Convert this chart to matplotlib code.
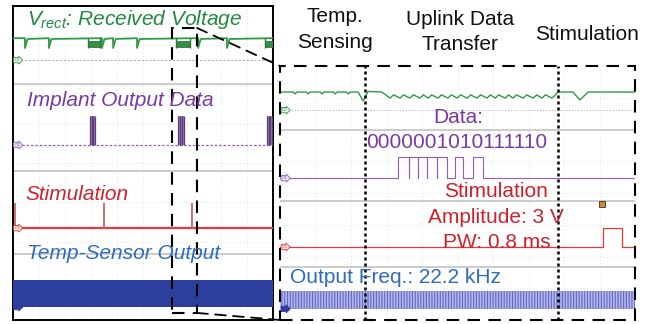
import numpy as np
import matplotlib.pyplot as plt
from matplotlib.patches import Rectangle, ConnectionPatch

plt.rcParams['font.family'] = ['Liberation Sans', 'DejaVu Sans']
plt.rcParams['mathtext.fontset'] = 'custom'
plt.rcParams['mathtext.it'] = 'Liberation Sans:italic'
plt.rcParams['mathtext.rm'] = 'Liberation Sans'
plt.rcParams['hatch.linewidth'] = 0.8

# ---- left scope screen (divisions: x 0..10, y 0..8) ----
green_hi = 7.18
green_lo = 6.93
green_thin_dips = [0.46, 1.38, 3.42, 3.85, 4.77, 7.12, 8.23]
green_wide_dips = [(2.88, 3.35), (6.27, 6.81), (9.69, 10.0)]
purple_base_l, purple_top_l = 4.46, 5.20
purple_bursts_l = [(2.96, 3.15), (6.35, 6.58), (9.77, 9.96)]
red_base_l, red_top_l = 2.34, 2.98
red_spikes_l = [0.08, 3.50, 6.88]
blue_band_l = (0.33, 1.02)
sep_l = [6.01, 3.80, 1.68]
ref_green_l = 6.62

# ---- right (zoomed) screen ----
green_r_hi = 7.18
green_r_notches = [0.42, 0.79, 1.18, 1.55, 1.92]
green_r_ripple = [3.10, 3.38, 3.66, 3.94, 4.17, 4.45, 4.73, 4.99, 5.27,
                  5.55, 5.83, 6.06, 6.34, 6.56, 6.85, 7.13, 7.38, 7.66]
ripple_top, ripple_bot = 7.12, 6.99
purple_base_r, purple_top_r = 4.47, 5.13
purple_pulses_r = [(3.32, 3.63), (3.63, 3.89), (3.89, 4.14), (4.14, 4.42),
                   (4.42, 4.70), (4.93, 5.15), (5.44, 5.72)]
red_base_r, red_top_r = 2.30, 2.90
red_pulse_r = (9.10, 9.63)
blue_band_r = (0.35, 0.91)
sep_r = [5.98, 3.75, 1.67]
ref_green_r = 6.61
phase_lines = [2.39, 7.83]

GREEN_T = "#1f8a3c"
GREEN = "#2f9a48"
PURPLE_T = "#7a3aa6"
PURPLE = "#9060b8"
RED_T = "#d0202c"
RED = "#e03a3a"
BLUE_T = "#2f6cc0"

fig = plt.figure(figsize=(6.62, 3.24), dpi=100)
ax_l = fig.add_axes([13/662, 4/324, 260/662, 314/324])
ax_r = fig.add_axes([280/662, 4/324, 355/662, 254/324])

for ax in (ax_l, ax_r):
    ax.set_xlim(0, 10)
    ax.set_ylim(0, 8)
    ax.set_xticks([])
    ax.set_yticks([])
    for g in range(1, 10):
        ax.axvline(g, color="#dadada", lw=0.6, ls=(0, (1, 3)), zorder=0)
    for g in range(1, 8):
        ax.axhline(g, color="#dadada", lw=0.6, ls=(0, (1, 3)), zorder=0)

for s in ax_l.spines.values():
    s.set_linewidth(1.4)
for s in ax_r.spines.values():
    s.set_visible(False)
ax_r.add_patch(Rectangle((0, 0), 10, 8, fill=False, ec="black", lw=1.5,
                         ls=(0, (6, 4)), clip_on=False, zorder=6))


def tag(ax, y, label, color, fc):
    ax.text(0.05, y, label, fontsize=3.2, color=color, ha="left", va="center",
            bbox=dict(boxstyle="rarrow,pad=0.15", fc=fc, ec=color, lw=0.6),
            zorder=5)


# ---------- left panel ----------
for y in sep_l:
    ax_l.axhline(y, color="#c4c4c4", lw=1.2, zorder=1)
ax_l.axhline(ref_green_l, color="#a8a8a8", lw=0.7, ls=(0, (2, 2)), zorder=1)

gx, gy = [0.0], [green_hi]
for x in green_thin_dips:
    gx += [x, x, x + 0.1]
    gy += [green_hi, green_lo, green_hi - 0.02]
gx.append(10.0)
gy.append(green_hi)
order = np.argsort(gx, kind="stable")
ax_l.plot(np.array(gx)[order], np.array(gy)[order], color=GREEN, lw=1.3, zorder=3)
for a, b in green_wide_dips:
    ax_l.fill_between([a, b], green_lo, green_hi - 0.06, color="#3a8a48", lw=0, zorder=3)
    ax_l.vlines([a, b], green_lo, green_hi, color="#2a7a38", lw=1.0, zorder=3)

ax_l.axhline(purple_base_l, color=PURPLE, lw=0.9, ls=(0, (2, 1.5)), zorder=3)
for a, b in purple_bursts_l:
    ax_l.fill_between([a, b], purple_base_l, purple_top_l, color="#9a80b2", lw=0, zorder=3)
    ax_l.vlines(np.linspace(a, b, 4), purple_base_l, purple_top_l, color="#5a3a78",
                lw=0.9, zorder=3)

ax_l.axhline(red_base_l, color=RED, lw=1.6, zorder=3)
ax_l.vlines(red_spikes_l, red_base_l, red_top_l, color="#c87070", lw=1.4, zorder=3)

ax_l.fill_between([0, 10], blue_band_l[0], blue_band_l[1], color="#2c3e9e", lw=0, zorder=3)

tag(ax_l, ref_green_l, "C2", GREEN, "#e8f5ea")
tag(ax_l, purple_base_l, "C4", PURPLE, "#efe6f5")
tag(ax_l, red_base_l, "C3", RED, "#fbe6e6")
tag(ax_l, blue_band_l[0], "C1", "#2c3e9e", "#2c3e9e")

ax_l.text(0.54, 7.52, r"$V_{rect}$: Received Voltage", color=GREEN_T, fontsize=15,
          style="italic", va="baseline", zorder=7)
ax_l.text(0.54, 5.45, "Implant Output Data", color=PURPLE_T, fontsize=15,
          style="italic", va="baseline", zorder=7)
ax_l.text(0.46, 3.06, "Stimulation", color=RED_T, fontsize=15,
          style="italic", va="baseline", zorder=7)
ax_l.text(0.54, 1.55, "Temp-Sensor Output", color=BLUE_T, fontsize=15,
          style="italic", va="baseline", zorder=7)

# zoom window on the left screen
zx0, zx1, zy0, zy1 = 6.12, 7.08, 0.18, 7.44
ax_l.add_patch(Rectangle((zx0, zy0), zx1 - zx0, zy1 - zy0, fill=False, ec="black",
                         lw=1.5, ls=(0, (6, 4)), zorder=6))
for ya, yb in [(zy1, 8.0), (zy0, 0.0)]:
    con = ConnectionPatch(xyA=(zx1, ya), coordsA=ax_l.transData,
                          xyB=(0, yb), coordsB=ax_r.transData,
                          color="black", lw=1.3, ls=(0, (6, 4)), zorder=6)
    fig.add_artist(con)

# ---------- right panel ----------
for y in sep_r:
    ax_r.axhline(y, color="#c4c4c4", lw=1.2, zorder=1)
ax_r.axhline(ref_green_r, color="#a8a8a8", lw=0.7, ls=(0, (1, 2)), zorder=1)

rx, ry = [0.0], [green_r_hi]
for x in green_r_notches:
    rx += [x - 0.04, x, x + 0.06]
    ry += [green_r_hi, green_r_hi - 0.06, green_r_hi]
rx += [2.20, 2.34, 2.48, 2.87]
ry += [green_r_hi, 6.90, 7.20, green_r_hi]
for x in green_r_ripple:
    rx += [x, x + 0.1]
    ry += [ripple_bot, ripple_top - 0.03]
rx += [7.78, 7.83, 8.25, 8.45, 8.68, 10.0]
ry += [ripple_top, green_r_hi, green_r_hi, 6.93, green_r_hi, green_r_hi]
ax_r.plot(rx, ry, color=GREEN, lw=1.0, zorder=3)

px, py = [0.0], [purple_base_r]
for a, b in purple_pulses_r:
    px += [a, a, b, b]
    py += [purple_base_r, purple_top_r, purple_top_r, purple_base_r]
px.append(10.0)
py.append(purple_base_r)
ax_r.plot(px, py, color=PURPLE, lw=0.8, zorder=3)

a, b = red_pulse_r
ax_r.plot([0, a, a, b, b, 10],
          [red_base_r, red_base_r, red_top_r, red_top_r, red_base_r, red_base_r],
          color=RED, lw=0.9, zorder=3)
ax_r.plot([9.07], [3.65], marker="s", ms=4, mfc="#d08a20", mec="#333333", mew=0.6,
          zorder=5)

ax_r.fill_between([0, 10], blue_band_r[0], blue_band_r[1], facecolor="#b6b6ec",
                  edgecolor="#6068c0", hatch="||||||", lw=0, zorder=3)

for x in phase_lines:
    ax_r.axvline(x, color="black", lw=1.8, ls=(0, (1.2, 1.2)), zorder=6)

tag(ax_r, ref_green_r, "C2", GREEN, "#e8f5ea")
tag(ax_r, purple_base_r, "C4", PURPLE, "#efe6f5")
tag(ax_r, red_base_r, "C3", RED, "#fbe6e6")
tag(ax_r, blue_band_r[0], "C1", "#2c3e9e", "#2c3e9e")

ax_r.text(5.01, 6.20, "Data:", color=PURPLE_T, fontsize=15, ha="center",
          va="baseline", zorder=7)
ax_r.text(4.99, 5.42, "0000001010111110", color=PURPLE_T, fontsize=15, ha="center",
          va="baseline", zorder=7)
ax_r.text(6.08, 3.87, "Stimulation", color=RED_T, fontsize=15, ha="center",
          va="baseline", zorder=7)
ax_r.text(6.08, 3.06, "Amplitude: 3 V", color=RED_T, fontsize=15, ha="center",
          va="baseline", zorder=7)
ax_r.text(6.11, 2.27, "PW: 0.8 ms", color=RED_T, fontsize=15, ha="center",
          va="baseline", zorder=7)
ax_r.text(0.28, 1.17, "Output Freq.: 22.2 kHz", color=BLUE_T, fontsize=15,
          va="baseline", zorder=7)

# phase headers above the zoomed screen
headers = [(1.55, 9.39, "Temp."), (1.55, 8.57, "Sensing"),
           (5.07, 9.29, "Uplink Data"), (5.07, 8.50, "Transfer"),
           (8.65, 8.82, "Stimulation")]
for x, y, s in headers:
    ax_r.text(x, y, s, color="#111111", fontsize=15, ha="center", va="baseline",
              clip_on=False)

fig.savefig("out.png", dpi=100)
